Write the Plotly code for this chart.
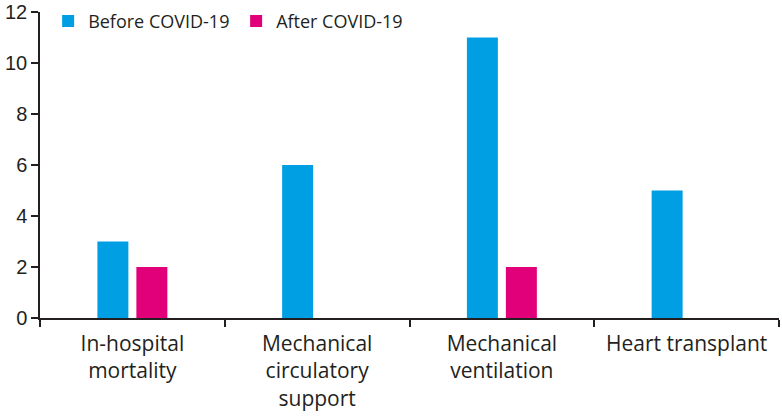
import plotly.graph_objects as go

categories = ["In-hospital<br>mortality", "Mechanical<br>circulatory<br>support",
              "Mechanical<br>ventilation", "Heart transplant"]
before = [3, 6, 11, 5]
after = [2, None, 2, None]
y_ticks = [0, 2, 4, 6, 8, 10, 12]

FONT = "'Open Sans', 'Noto Sans', sans-serif"
TXT = "#231f20"

fig = go.Figure()
fig.add_trace(go.Bar(name="Before COVID-19", x=categories, y=before,
                     marker=dict(color="#009fe3", line=dict(width=0))))
fig.add_trace(go.Bar(name="After COVID-19", x=categories, y=after,
                     marker=dict(color="#e2007a", line=dict(width=0))))

fig.update_layout(
    width=782, height=418,
    margin=dict(l=40, r=3, t=12, b=100, autoexpand=False),
    paper_bgcolor="white", plot_bgcolor="white",
    barmode="group", bargap=0.578, bargroupgap=0.205,
    font=dict(family=FONT, color=TXT),
    legend=dict(orientation="h", x=0.011, y=1.03, xanchor="left", yanchor="top",
                font=dict(size=18, color=TXT), bgcolor="rgba(0,0,0,0)",
                entrywidth=143, entrywidthmode="pixels", traceorder="normal"),
    showlegend=True,
)
fig.update_xaxes(
    type="category", tickson="boundaries", ticks="outside", ticklen=7,
    tickcolor=TXT, tickwidth=1.5, showline=True, linecolor=TXT, linewidth=1.5,
    showgrid=False, range=[-0.5, 3.5], automargin=False, ticklabelstandoff=6,
    tickfont=dict(size=21, color=TXT, family=FONT),
)
fig.update_yaxes(
    range=[0, 12], tickvals=y_ticks, ticks="outside", ticklen=7,
    tickcolor=TXT, tickwidth=1.5, showline=True, linecolor=TXT, linewidth=1.5,
    showgrid=False, zeroline=False, automargin=False, ticklabelstandoff=0,
    tickfont=dict(size=20, color=TXT, family="'Liberation Sans', Arial, sans-serif"),
)

fig.write_html("out.html", config={"displayModeBar": False},
               post_script="document.body.style.margin='0';")
